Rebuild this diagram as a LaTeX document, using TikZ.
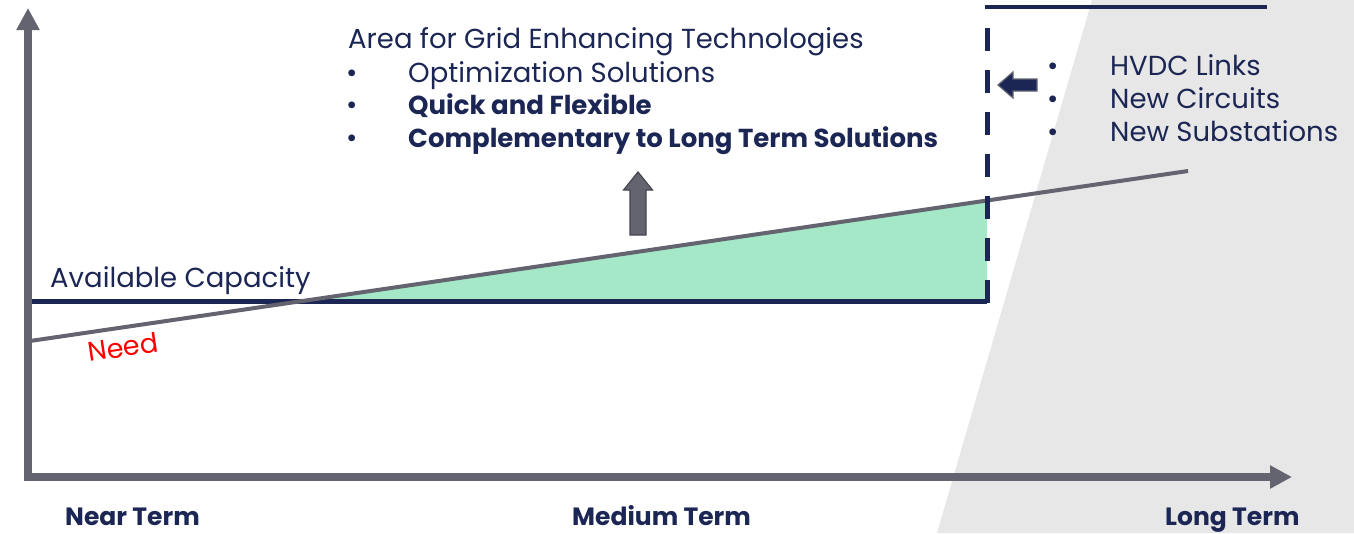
\documentclass[tikz,border=0pt]{standalone}
\usepackage{fontspec}
\setmainfont{Poppins}
\usetikzlibrary{arrows.meta}
\definecolor{navy}{RGB}{27,38,84}
\definecolor{axisgray}{RGB}{99,100,112}
\definecolor{mint}{RGB}{165,232,200}
\definecolor{bggray}{RGB}{231,231,231}
\tikzset{axtip/.tip={Triangle[width=22pt,length=22pt]}}
\begin{document}
\begin{tikzpicture}[x=1pt,y=-1pt,
  txt/.style={inner sep=0pt, anchor=base west, text=navy, font=\fontsize{27.5}{32}\selectfont},
  btxt/.style={inner sep=0pt, anchor=base west, text=navy, font=\fontsize{26}{32}\selectfont\bfseries},
  termlbl/.style={inner sep=0pt, anchor=base west, text=navy, font=\fontsize{25}{30}\selectfont\bfseries},
  axisline/.style={draw=axisgray, line width=8pt, line join=miter},
  blockarrow/.style={line width=1.2pt, line join=miter}]
\useasboundingbox (0,0) rectangle (1354,533);
% long-term background
\fill[bggray] (1092,0) -- (1354,0) -- (1354,533) -- (937,533) -- cycle;
% key points
\coordinate (need0) at (30,341);
\coordinate (need1) at (1188,171);
\coordinate (cross) at (302.5,301);
\coordinate (cap0) at (30,301);
\coordinate (cap1) at (987,301);
\coordinate (needend) at (987,200.5);
% green area
\fill[mint] (cross) -- (needend) -- (cap1) -- cycle;
% available capacity
\draw[navy, line width=5pt] (cap0) -- (cap1);
% need
\draw[axisgray, line width=4pt] (need0) -- (need1);
% axes
\coordinate (ytop) at (28,8);
\coordinate (origin) at (28,477);
\coordinate (xend) at (1292,477);
\draw[axisline, axtip-axtip] (ytop) -- (origin) -- (xend);
% long-term boundary
\coordinate (tl) at (985,7);
\coordinate (tr) at (1267,7);
\coordinate (dtop) at (987,28);
\coordinate (dbot) at (987,303);
\draw[navy, line width=3.5pt] (tl) -- (tr);
\draw[navy, line width=5pt, dash pattern=on 23pt off 19pt] (dtop) -- (dbot);
% block arrows
\draw[blockarrow, fill=axisgray, draw=axisgray!70!black]
  (638,172) -- (652.5,190) -- (646,190) -- (646,235) -- (630,235) -- (630,190) -- (623.5,190) -- cycle;
\draw[blockarrow, fill=navy, draw=axisgray]
  (998,85) -- (1013,72) -- (1013,79) -- (1037,79) -- (1037,91) -- (1013,91) -- (1013,98) -- cycle;
% texts
\node[txt] (title) at (348,48) {Area for Grid Enhancing Technologies};
\node[txt] (b1) at (346,82) {•};
\node[txt] (t1) at (408,82) {Optimization Solutions};
\node[txt] (b2) at (346,114) {•};
\node[btxt] (t2) at (408,114) {Quick and Flexible};
\node[txt] (b3) at (346,147) {•};
\node[btxt] (t3) at (408,147) {Complementary to Long Term Solutions};
\node[txt] (r1b) at (1047,75) {•};
\node[txt] (r1) at (1110,75) {HVDC Links};
\node[txt] (r2b) at (1047,108) {•};
\node[txt] (r2) at (1110,108) {New Circuits};
\node[txt] (r3b) at (1047,141) {•};
\node[txt] (r3) at (1110,141) {New Substations};
\node[txt] (avail) at (50,287) {Available Capacity};
\node[inner sep=0pt, text=red, font=\fontsize{27}{30}\selectfont, rotate=8.5] (needlbl) at (123,347) {Need};
\node[termlbl] (near) at (65,525) {Near Term};
\node[termlbl] (medium) at (572,525) {Medium Term};
\node[termlbl] (long) at (1165,525) {Long Term};
\end{tikzpicture}
\end{document}
